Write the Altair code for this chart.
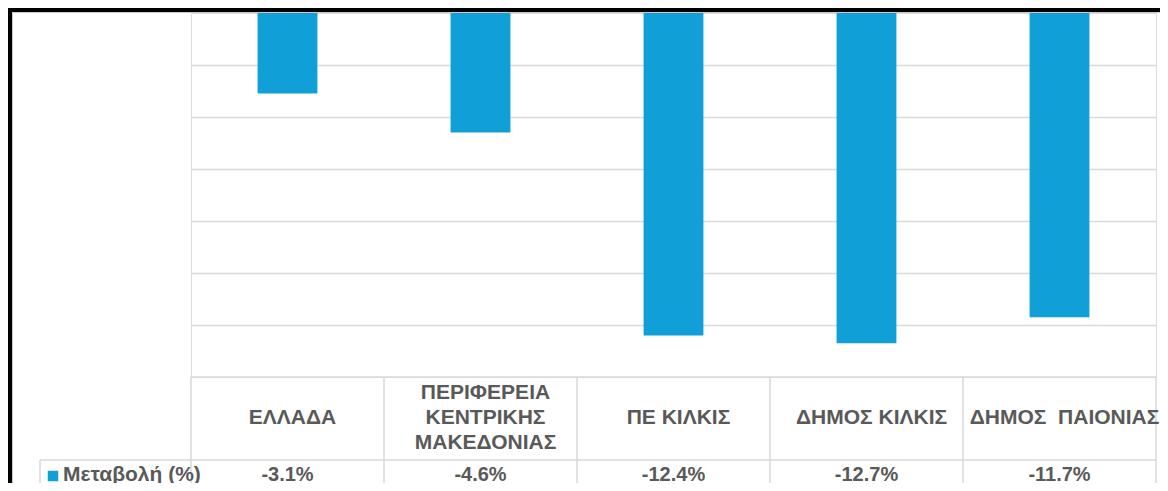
import altair as alt
import pandas as pd

# ---- data ----
categories = ["ΕΛΛΑΔΑ", "ΠΕΡΙΦΕΡΕΙΑ ΚΕΝΤΡΙΚΗΣ ΜΑΚΕΔΟΝΙΑΣ", "ΠΕ ΚΙΛΚΙΣ", "ΔΗΜΟΣ ΚΙΛΚΙΣ", "ΔΗΜΟΣ  ΠΑΙΟΝΙΑΣ"]
category_labels = ["ΕΛΛΑΔΑ", "ΠΕΡΙΦΕΡΕΙΑ\nΚΕΝΤΡΙΚΗΣ\nΜΑΚΕΔΟΝΙΑΣ", "ΠΕ ΚΙΛΚΙΣ", "ΔΗΜΟΣ ΚΙΛΚΙΣ", "ΔΗΜΟΣ\u00a0\u00a0ΠΑΙΟΝΙΑΣ"]
values = [-3.1, -4.6, -12.4, -12.7, -11.7]
series_name = ["Μεταβολή (%)"]
grid_values = [-2, -4, -6, -8, -10, -12]

BLUE = "#109FD6"
GRAY = "#595959"
LINE = "#D9D9D9"
FONT = "Liberation Sans"

W, H = 965, 364
TABLE_BOTTOM = H + 130
ROW_LINE = 447

df = pd.DataFrame({"cat": categories, "label": category_labels, "value": values})
df["lines"] = [len(s.split("\n")) for s in category_labels]
one = pd.DataFrame({"a": [0]})
leg = pd.DataFrame({"name": series_name})

xscale = alt.Scale(paddingInner=0, paddingOuter=0)
xenc = alt.X("cat:N", sort=categories, axis=None, scale=xscale)

base = alt.Chart(df)

bars = base.mark_bar(color=BLUE, width=alt.RelativeBandSize(0.31)).encode(
    x=xenc,
    y=alt.Y("value:Q",
            scale=alt.Scale(domain=[-14, 0], nice=False),
            axis=alt.Axis(values=grid_values, grid=True, labels=False, ticks=False,
                          domain=False, title=None, gridColor=LINE, gridWidth=1.5)),
)

# table column boundaries
col_lines = base.mark_rule(color=LINE, strokeWidth=1.5).encode(
    x=alt.X("cat:N", sort=categories, axis=None, bandPosition=0, scale=xscale),
    y=alt.value(H), y2=alt.value(TABLE_BOTTOM),
)
right_line = alt.Chart(one).mark_rule(color=LINE, strokeWidth=1.5).encode(
    x=alt.value(W), y=alt.value(H), y2=alt.value(TABLE_BOTTOM))
top_line = alt.Chart(one).mark_rule(color=LINE, strokeWidth=1.5).encode(
    x=alt.value(0), x2=alt.value(W), y=alt.value(H))
row_line = alt.Chart(one).mark_rule(color=LINE, strokeWidth=1.5).encode(
    x=alt.value(-151), x2=alt.value(W), y=alt.value(ROW_LINE))
leg_left = alt.Chart(one).mark_rule(color=LINE, strokeWidth=1.5).encode(
    x=alt.value(-151), y=alt.value(ROW_LINE), y2=alt.value(TABLE_BOTTOM))

# outer frame
frame_left = alt.Chart(one).mark_rule(color="black", strokeWidth=4).encode(
    x=alt.value(-181), y=alt.value(-5), y2=alt.value(TABLE_BOTTOM))
frame_top = alt.Chart(one).mark_rule(color="black", strokeWidth=4).encode(
    x=alt.value(-183), x2=alt.value(W + 4), y=alt.value(-3))
inner_left = alt.Chart(one).mark_rule(color="#C8C8C8", strokeWidth=1).encode(
    x=alt.value(-178.5), y=alt.value(-0.5), y2=alt.value(TABLE_BOTTOM))
inner_top = alt.Chart(one).mark_rule(color="#C8C8C8", strokeWidth=1).encode(
    x=alt.value(-178.5), x2=alt.value(W + 4), y=alt.value(-0.5))

text_style = dict(fontSize=21, fontWeight="bold", color=GRAY, font=FONT,
                  lineBreak="\n", lineHeight=25, baseline="middle", dx=5)

cat_text_1 = base.transform_filter("datum.lines == 1").mark_text(**text_style).encode(
    x=xenc, y=alt.value(405), text="label:N")
cat_text_3 = base.transform_filter("datum.lines == 3").mark_text(**text_style).encode(
    x=xenc, y=alt.value(380), text="label:N")

val_text = base.transform_calculate(
    lbl="datum.value + '%'"
).mark_text(fontSize=20, fontWeight="bold", color=GRAY, font=FONT, baseline="middle").encode(
    x=xenc, y=alt.value(462), text="lbl:N")

leg_sym = alt.Chart(leg).mark_point(shape="square", filled=True, color=BLUE,
                                    size=110, opacity=1).encode(
    x=alt.value(-138), y=alt.value(463))
leg_text = alt.Chart(leg).mark_text(fontSize=21, fontWeight="bold", color=GRAY, font=FONT,
                                    align="left", baseline="middle").encode(
    x=alt.value(-128), y=alt.value(462), text="name:N")

chart = alt.layer(
    bars, col_lines, right_line, top_line, row_line, leg_left,
    cat_text_1, cat_text_3, val_text, leg_sym, leg_text,
    inner_left, inner_top, frame_left, frame_top,
).properties(
    width=W, height=H,
    autosize=alt.AutoSizeParams(type="none"),
    padding={"left": 183, "top": 5, "right": 4, "bottom": 106},
).configure_view(stroke=None).configure(background="white")

chart.save("out.html", embed_options={"renderer": "svg", "actions": False})
